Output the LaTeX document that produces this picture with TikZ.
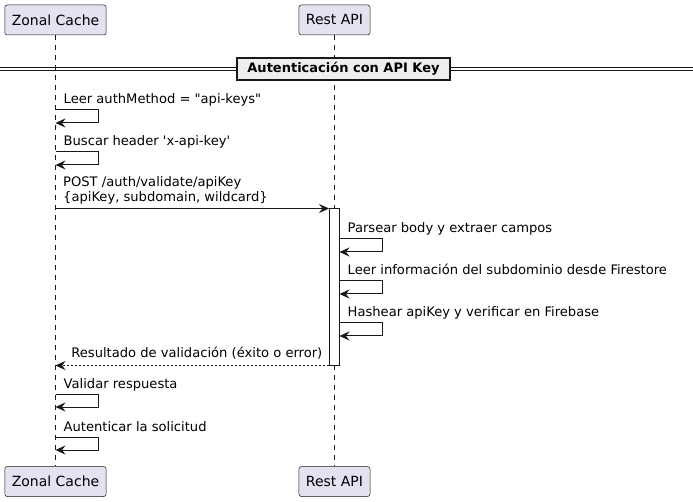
\documentclass[tikz,border=0pt]{standalone}
\usepackage{fontspec}
\setmainfont{DejaVu Sans}
\usetikzlibrary{arrows.meta,positioning}
\definecolor{lineC}{HTML}{181818}
\definecolor{partFill}{HTML}{E2E2F0}
\definecolor{divFill}{HTML}{EEEEEE}
\tikzset{
  part/.style={draw=lineC, fill=partFill, rounded corners=2.5pt, line width=0.5pt,
    minimum height=30pt, inner xsep=7pt, font=\fontsize{14}{16}\selectfont},
  life/.style={draw=lineC, line width=0.5pt, dash pattern=on 5pt off 5pt},
  msg/.style={draw=lineC, line width=1pt, -{Stealth[length=10pt,width=9pt,inset=3.5pt]}},
  reply/.style={msg, dash pattern=on 2pt off 2pt},
  msgtxt/.style={anchor=base west, inner sep=0pt, font=\fontsize{13.1}{15}\selectfont},
  act/.style={draw=lineC, fill=white, line width=1pt, minimum width=10pt, inner sep=0pt},
  divbox/.style={draw=lineC, fill=divFill, line width=1.5pt, minimum width=213pt,
    minimum height=22pt, inner sep=0pt, font=\fontsize{13}{15}\selectfont\bfseries}
}
\def\selfmsg[#1](#2,#3)#4{\draw[msg] (#2,#3) -- ++(42.5,0) -- ++(0,13) -- (#2,#3+13);
  \node[msgtxt] (#1) at (#2+8,#3-6) {#4};}

\begin{document}
\begin{tikzpicture}[x=1pt,y=-1pt]
\useasboundingbox (0,0) rectangle (693,502);
%%%%% START %%%%%

\node[part] (zcTop) at (55.5,20) {Zonal Cache};
\node[part] (apiTop) at (334.5,20) {Rest API};
\node[part] (zcBot) at (55.5,481.5) {Zonal Cache};
\node[part] (apiBot) at (334.5,481.5) {Rest API};

\draw[life] (zcTop) -- (zcBot);
\draw[life] (apiTop) -- (apiBot);

\draw[lineC, line width=1pt] (0,67.5) -- (693,67.5);
\draw[lineC, line width=1pt] (0,70.5) -- (693,70.5);
\node[divbox] (div) at (343.5,69) {Autenticación con API Key};

\selfmsg[m1](55.5,110){Leer authMethod = \textquotedbl api-keys\textquotedbl}
\selfmsg[m2](55.5,152){Buscar header \textquotesingle x-api-key\textquotesingle}

\node[act, minimum height=156pt] (act) at (334.5,287) {};
\node[msgtxt] (m3) at (63,186.5) {\begin{tabular}[t]{@{}l@{}}POST /auth/validate/apiKey\\\{apiKey, subdomain, wildcard\}\end{tabular}};
\draw[msg] (zcTop |- act.north) -- (act.north west);

\selfmsg[m4](339.5,239){Parsear body y extraer campos}
\selfmsg[m5](339.5,281){Leer información del subdominio desde Firestore}
\selfmsg[m6](339.5,323){Hashear apiKey y verificar en Firebase}

\node[msgtxt, anchor=base east] (m7) at (322.5,358) {Resultado de validación (éxito o error)};
\draw[reply] (act.south west) -- (zcTop |- act.south);

\selfmsg[m8](55.5,394){Validar respuesta}
\selfmsg[m9](55.5,437){Autenticar la solicitud}

%%%%% END %%%%%
\end{tikzpicture}
\end{document}
